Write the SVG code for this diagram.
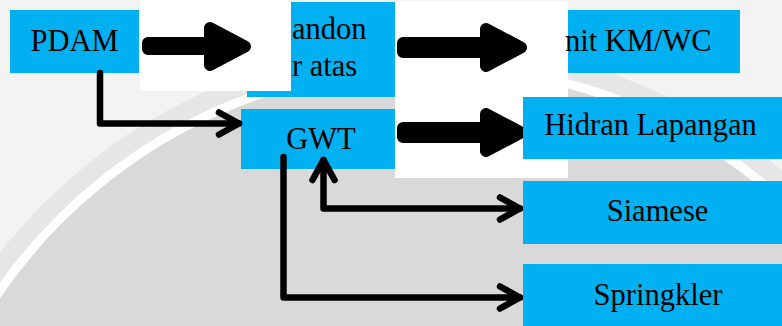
<svg xmlns="http://www.w3.org/2000/svg" width="782" height="326" viewBox="0 0 782 326">
  <style>
    .box { fill: #00B0F0; }
    .lbl { font-family: "Liberation Serif", "Times New Roman", serif; font-size: 30.5px; fill: #000; }
    .patch { fill: #FFFFFF; }
    .fat { fill: #000; stroke: #000; stroke-width: 12; stroke-linejoin: round; }
    .thin { fill: none; stroke: #000; stroke-width: 6.5; stroke-linecap: round; stroke-linejoin: round; }
  </style>
  <defs>
    <marker id="chev" markerUnits="userSpaceOnUse" markerWidth="40" markerHeight="40" viewBox="-30 -20 40 40" refX="0" refY="0" orient="auto-start-reverse">
      <path d="M-20,-11 L0,0 L-20,11" fill="none" stroke="#000" stroke-width="6.5" stroke-linecap="round" stroke-linejoin="round"/>
    </marker>
  </defs>

  <g id="background">
    <rect x="0" y="0" width="782" height="326" fill="#F3F3F3"/>
    <circle cx="431" cy="591" r="548" fill="#E6E6E6"/>
    <circle cx="431" cy="591" r="530" fill="#FFFFFF"/>
    <circle cx="431" cy="591" r="521" fill="#D9D9D9"/>
  </g>

  <g id="node-tandon">
    <rect class="box" x="247" y="2" width="148" height="95"/>
    <text class="lbl" x="292" y="39">andon</text>
    <text class="lbl" x="292" y="76">r atas</text>
  </g>

  <g id="patches">
    <rect class="patch" x="140" y="0" width="151" height="91"/>
    <rect class="patch" x="395" y="1" width="173" height="177"/>
  </g>

  <g id="node-pdam">
    <rect class="box" x="10" y="10" width="129" height="63"/>
    <text class="lbl" x="74.5" y="51" text-anchor="middle">PDAM</text>
  </g>

  <g id="node-gwt">
    <rect class="box" x="241" y="109" width="154" height="60"/>
    <text class="lbl" x="321" y="149" text-anchor="middle">GWT</text>
  </g>

  <g id="connectors">
    <path class="fat" d="M148,43 L210,43 L210,28 L245,46.5 L210,65 L210,49 L148,49 Z"/>
    <path class="fat" d="M403,43 L486,43 L486,29 L521,47.5 L486,66 L486,52 L403,52 Z"/>
    <path class="fat" d="M403,128 L486,128 L486,114 L521,132.5 L486,151 L486,137 L403,137 Z"/>
    <path class="thin" d="M100,73 L100,123.5 L239,123.5" marker-end="url(#chev)"/>
    <path class="thin" d="M323.5,160 L323.5,208.5 L520,208.5" marker-start="url(#chev)" marker-end="url(#chev)"/>
    <path class="thin" d="M283.5,157 L283.5,297.5 L520,297.5" marker-end="url(#chev)"/>
  </g>

  <g id="node-unit">
    <rect class="box" x="568" y="10" width="172" height="63"/>
    <text class="lbl" x="565" y="51">nit KM/WC</text>
  </g>

  <g id="node-hidran">
    <rect class="box" x="523" y="97" width="259" height="62"/>
    <text class="lbl" x="650.5" y="135" text-anchor="middle">Hidran Lapangan</text>
  </g>

  <g id="node-siamese">
    <rect class="box" x="523" y="181" width="259" height="63"/>
    <text class="lbl" x="657.5" y="221" text-anchor="middle">Siamese</text>
  </g>

  <g id="node-springkler">
    <rect class="box" x="523" y="264" width="259" height="62"/>
    <text class="lbl" x="658" y="305" text-anchor="middle">Springkler</text>
  </g>
</svg>
